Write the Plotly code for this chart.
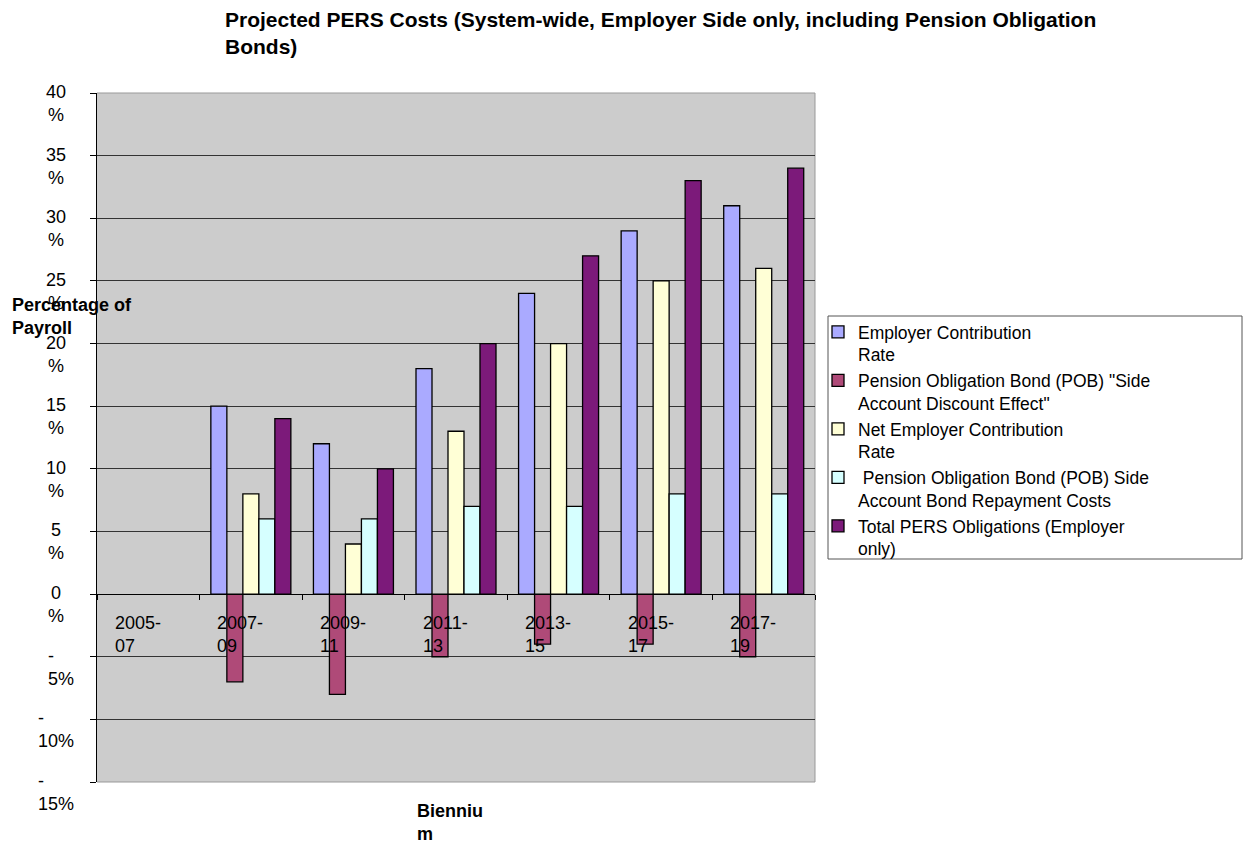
import plotly.graph_objects as go

categories = ["2005-<br>07", "2007-<br>09", "2009-<br>11", "2011-<br>13", "2013-<br>15", "2015-<br>17", "2017-<br>19"]
employer_rate = [None, 15, 12, 18, 24, 29, 31]
pob_side_discount = [None, -7, -8, -5, -4, -4, -5]
net_employer_rate = [None, 8, 4, 13, 20, 25, 26]
pob_repayment = [None, 6, 6, 7, 7, 8, 8]
total_pers = [None, 14, 10, 20, 27, 33, 34]

series_names = [
    "Employer Contribution<br>Rate",
    "Pension Obligation Bond (POB) \"Side<br>Account Discount Effect\"",
    "Net Employer Contribution<br>Rate",
    " Pension Obligation Bond (POB) Side<br>Account Bond Repayment Costs",
    "Total PERS Obligations (Employer<br>only)",
]
series_values = [employer_rate, pob_side_discount, net_employer_rate, pob_repayment, total_pers]
series_colors = ["#AAAAFF", "#AF4A78", "#FFFFD6", "#D6FFFF", "#7C1A7A"]

y_ticks = [-15, -10, -5, 0, 5, 10, 15, 20, 25, 30, 35, 40]
y_tick_text = ["-<br>15%", "-<br>10%", "-<br>5%", "0<br>%", "5<br>%", "10<br>%", "15<br>%",
               "20<br>%", "25<br>%", "30<br>%", "35<br>%", "40<br>%"]

FONT = "Liberation Sans, Arial, sans-serif"
FS = 18

# plot-area pixel geometry
L, R, T, B = 97, 815, 93, 782
PW, PH = R - L, B - T


def px_x(px):
    return (px - L) / PW


def px_y(py):
    return (B - py) / PH


fig = go.Figure()
for name, vals, col in zip(series_names, series_values, series_colors):
    fig.add_trace(go.Bar(
        x=categories, y=vals, name=name,
        marker=dict(color=col, line=dict(color="black", width=1.3)),
    ))

y_min, y_max = y_ticks[0], y_ticks[-1]
zero_pos = (0 - y_min) / (y_max - y_min)

fig.update_layout(
    width=1245, height=844,
    margin=dict(l=L, r=1245 - R, t=T, b=844 - B),
    paper_bgcolor="white",
    plot_bgcolor="#CCCCCC",
    barmode="group",
    bargap=0.22,
    bargroupgap=0,
    font=dict(family=FONT, size=FS, color="black"),
    xaxis=dict(
        type="category",
        anchor="free", position=zero_pos,
        showline=True, linecolor="black", linewidth=1,
        ticks="outside", tickson="boundaries", ticklen=5, tickcolor="black",
        showticklabels=False, showgrid=False, zeroline=False,
        range=[-0.5, len(categories) - 0.5],
    ),
    yaxis=dict(
        range=[y_min, y_max],
        tickvals=y_ticks, showticklabels=False,
        ticks="outside", ticklen=6, tickcolor="black",
        showline=True, linecolor="black", linewidth=1,
        showgrid=True, gridcolor="#333333", gridwidth=1,
        zeroline=False,
    ),
    legend=dict(
        x=px_x(818), xanchor="left",
        y=px_y(314), yanchor="top",
        bgcolor="rgba(0,0,0,0)", borderwidth=0,
        font=dict(family=FONT, size=17.5, color="black"),
        valign="top", itemwidth=30,
    ),
    showlegend=True,
)

# plot-area border (top/right/bottom)
fig.add_shape(type="path", xref="paper", yref="paper", path="M 0 1 L 1 1 L 1 0 L 0 0",
              line=dict(color="#999999", width=1), layer="below")
# legend frame
fig.add_shape(type="rect", xref="paper", yref="paper",
              x0=px_x(828), x1=px_x(1242), y0=px_y(559), y1=px_y(316),
              line=dict(color="#555555", width=1), fillcolor="white", layer="below")

annotations = []
# title
annotations.append(dict(x=px_x(223), xref="paper", xanchor="left", align="left",
                        y=px_y(6), yref="paper", yanchor="top",
                        text="<b>Projected PERS Costs (System-wide, Employer Side only, including Pension Obligation<br>Bonds)</b>",
                        showarrow=False, font=dict(family=FONT, size=21)))
# y tick labels
for v, t in zip(y_ticks, y_tick_text):
    if v >= 0:
        annotations.append(dict(x=0, xref="paper", xshift=-41, xanchor="center", align="center",
                                y=v, yref="y", yanchor="top", yshift=13,
                                text=t, showarrow=False, font=dict(family=FONT, size=FS)))
    else:
        annotations.append(dict(x=0, xref="paper", xshift=-21, xanchor="right", align="left",
                                y=v, yref="y", yanchor="top", yshift=13,
                                text=t, showarrow=False, font=dict(family=FONT, size=FS)))
# category labels
for i, c in enumerate(categories):
    annotations.append(dict(x=i - 0.345, xref="x", xanchor="left", align="left",
                            y=0, yref="y", yanchor="top", yshift=-17,
                            text=c, showarrow=False, font=dict(family=FONT, size=FS)))
# axis titles
annotations.append(dict(x=0, xref="paper", xshift=-87, xanchor="left", align="left",
                        y=px_y(316), yref="paper", yanchor="middle",
                        text="<b>Percentage of<br>Payroll</b>", showarrow=False,
                        font=dict(family=FONT, size=FS)))
annotations.append(dict(x=px_x(415), xref="paper", xanchor="left", align="left",
                        y=px_y(799), yref="paper", yanchor="top",
                        text="<b>Bienniu<br>m</b>", showarrow=False,
                        font=dict(family=FONT, size=FS)))
fig.update_layout(annotations=annotations)

fig.write_html("out.html")
